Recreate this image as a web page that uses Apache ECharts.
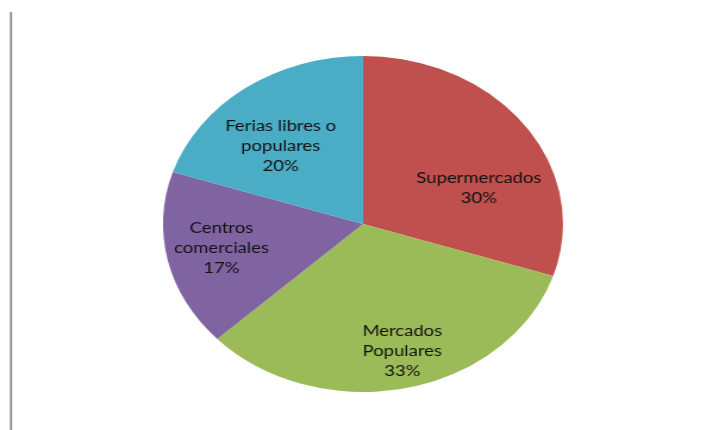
<!DOCTYPE html>
<html>
<head>
<meta charset="utf-8">
<script src="https://cdn.jsdelivr.net/npm/echarts@6/dist/echarts.min.js"></script>
<style>
  html, body { margin: 0; padding: 0; background: #ffffff; overflow: hidden; }
  #wrap { width: 705px; height: 430px; overflow: hidden; position: relative; }
  #chart { position: absolute; left: 0; top: 0; height: 430px; transform-origin: 0 0; }
</style>
</head>
<body>
<div id="wrap"><div id="chart"></div></div>
<script>
// Lugares de compra
const categories = ['Supermercados', 'Mercados\nPopulares', 'Centros\ncomerciales', 'Ferias libres o\npopulares'];
const shares = [30, 33, 17, 20];
const colors = ['#C0504D', '#9BBB59', '#8064A2', '#4BACC6'];

// The pie is drawn round and then widened into an ellipse.
const stretch = 200 / 168;
const W = 705, H = 430;
const innerW = W / stretch;
const el = document.getElementById('chart');
el.style.width = innerW + 'px';
el.style.transform = 'scaleX(' + stretch + ')';

const cx = 363 / stretch, cy = 224, r = 168;
// label nudges away from the default inside position
const labelNudge = [[27, 15], [14, 42], [-34, 5], [-18, -8]];

const chart = echarts.init(el, null, { renderer: 'canvas', width: innerW, height: H });
chart.setOption({
  animation: false,
  backgroundColor: '#ffffff',
  graphic: [{
    type: 'line',
    shape: { x1: 11 / stretch, y1: 12, x2: 11 / stretch, y2: 430 },
    style: { stroke: '#8c8c8c', lineWidth: 1.8 }
  }],
  series: [{
    type: 'pie',
    center: [cx, cy],
    radius: [0, r],
    startAngle: 90,
    clockwise: true,
    avoidLabelOverlap: false,
    itemStyle: { borderWidth: 0 },
    label: {
      show: true,
      position: 'inside',
      formatter: '{b}\n{d}%',
      color: '#111111',
      fontFamily: 'Lato',
      fontSize: 15.5,
      lineHeight: 20,
      align: 'center'
    },
    labelLine: { show: false },
    emphasis: { disabled: true },
    data: categories.map((name, i) => ({
      name: name,
      value: shares[i],
      itemStyle: { color: colors[i] },
      label: { offset: labelNudge[i] }
    }))
  }]
});
</script>
</body>
</html>
